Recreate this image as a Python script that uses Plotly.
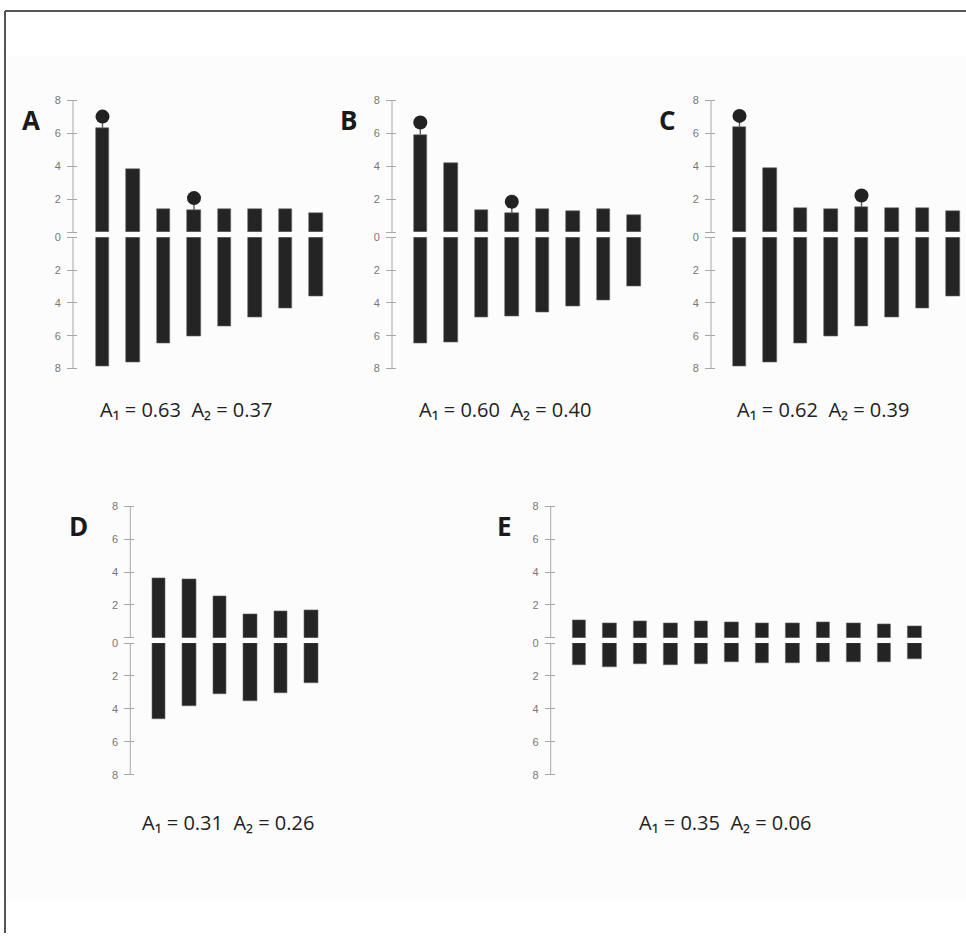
import plotly.graph_objects as go

W, H = 966, 939

# ---------------- data ----------------
panel_names = ["A", "B", "C", "D", "E"]

a_upper = [6.28, 3.80, 1.38, 1.34, 1.42, 1.38, 1.38, 1.16]
a_lower = [7.84, 7.64, 6.46, 6.06, 5.40, 4.88, 4.32, 3.60]
a_circle_idx = [0, 3]
a_circle_val = [7.00, 2.06]

b_upper = [5.90, 4.20, 1.34, 1.14, 1.38, 1.30, 1.38, 1.00]
b_lower = [6.48, 6.42, 4.88, 4.80, 4.54, 4.22, 3.84, 2.98]
b_circle_idx = [0, 3]
b_circle_val = [6.64, 1.84]

c_upper = [6.38, 3.88, 1.46, 1.42, 1.52, 1.46, 1.46, 1.30]
c_lower = [7.84, 7.64, 6.46, 6.06, 5.40, 4.86, 4.32, 3.60]
c_circle_idx = [0, 4]
c_circle_val = [7.04, 2.22]

d_upper = [3.60, 3.58, 2.50, 1.42, 1.64, 1.70]
d_lower = [4.62, 3.82, 3.12, 3.50, 3.02, 2.40]
d_circle_idx = []
d_circle_val = []

e_upper = [1.04, 0.90, 1.00, 0.90, 0.98, 0.94, 0.86, 0.86, 0.92, 0.88, 0.80, 0.70]
e_lower = [1.36, 1.44, 1.30, 1.32, 1.26, 1.18, 1.24, 1.22, 1.16, 1.14, 1.14, 0.98]
e_circle_idx = []
e_circle_val = []

a1_values = ["0.63", "0.60", "0.62", "0.31", "0.35"]
a2_values = ["0.37", "0.40", "0.39", "0.26", "0.06"]

upper_tick_values = [2, 4, 6, 8]
upper_tick_labels = ["2", "4", "6", "8"]
lower_tick_values = [0, 2, 4, 6, 8]
lower_tick_labels = ["0", "2", "4", "6", "8"]

# ---------------- layout geometry (pixels) ----------------
panels = [
    dict(up=a_upper, lo=a_lower, ci=a_circle_idx, cv=a_circle_val, axis=73.0, first=102.5, top=95.3, mid0=229.0, mid1=234.3, bot=367.3,
         letter=(30.5, 115.5), text=(185.7, 409)),
    dict(up=b_upper, lo=b_lower, ci=b_circle_idx, cv=b_circle_val, axis=392.0, first=420.3, top=95.3, mid0=229.0, mid1=234.3, bot=367.3,
         letter=(348.0, 115.5), text=(504.5, 409)),
    dict(up=c_upper, lo=c_lower, ci=c_circle_idx, cv=c_circle_val, axis=711.0, first=739.5, top=95.3, mid0=229.0, mid1=234.3, bot=367.3,
         letter=(667.5, 115.5), text=(823.0, 409)),
    dict(up=d_upper, lo=d_lower, ci=d_circle_idx, cv=d_circle_val, axis=130.3, first=159.0, top=506.7, mid0=640.0, mid1=645.3, bot=778.7,
         letter=(78.3, 526.7), text=(228.0, 827)),
    dict(up=e_upper, lo=e_lower, ci=e_circle_idx, cv=e_circle_val, axis=550.7, first=579.0, top=506.7, mid0=640.0, mid1=645.3, bot=778.7,
         letter=(504.0, 527.0), text=(725.0, 827)),
]

SP = 30.5        # px between bar centres
BARW = 13.5      # bar width px
BAR_COLOR = "#242424"
AXIS_COLOR = "#a8a8a8"
TICKFONT = dict(family="Liberation Sans, Arial, sans-serif", size=11, color="#777777")

def px2x(px):
    return px / W

def px2y(py):
    return 1 - py / H

fig = go.Figure()
layout = dict(
    width=W, height=H,
    margin=dict(l=0, r=0, t=0, b=0),
    paper_bgcolor="white", plot_bgcolor="rgba(0,0,0,0)",
    showlegend=False, hovermode=False, bargap=0,
)
shapes = [
    dict(type="rect", xref="paper", yref="paper", x0=px2x(6), x1=1, y0=px2y(905), y1=px2y(50),
         fillcolor="#fcfcfc", line=dict(width=0), layer="below"),
    dict(type="line", xref="paper", yref="paper", x0=px2x(5), x1=1, y0=px2y(5), y1=px2y(5),
         line=dict(color="#555555", width=2)),
    dict(type="line", xref="paper", yref="paper", x0=px2x(5), x1=px2x(5), y0=px2y(5), y1=0,
         line=dict(color="#555555", width=2)),
]
annotations = []

k = 0
for pi, p in enumerate(panels):
    n = len(p["up"])
    x0px = p["axis"] + 5
    last = p["first"] + (n - 1) * SP
    x1px = min(W, last + 16)
    xr = [(x0px - p["first"]) / SP, (x1px - p["first"]) / SP]
    xdom = [px2x(x0px), px2x(x1px)]
    cats = list(range(n))
    for part in ("up", "lo"):
        k += 1
        suffix = "" if k == 1 else str(k)
        xa, ya = "x" + suffix, "y" + suffix
        yax = dict(anchor=xa, tickmode="array", ticks="outside", ticklen=10,
                   tickwidth=1, tickcolor=AXIS_COLOR, showline=False, showgrid=False,
                   zeroline=False, tickfont=TICKFONT, ticklabelstandoff=4, fixedrange=True)
        if part == "up":
            yax.update(domain=[px2y(p["mid0"]), px2y(p["top"])], range=[0, 8],
                       tickvals=upper_tick_values, ticktext=upper_tick_labels,
                       minor=dict(tickmode="array", tickvals=[0], ticks="outside", ticklen=10,
                                  tickwidth=1, tickcolor=AXIS_COLOR, showgrid=False))
        else:
            yax.update(domain=[px2y(p["bot"]), px2y(p["mid1"])], range=[8, 0],
                       tickvals=lower_tick_values, ticktext=lower_tick_labels)
        layout["xaxis" + suffix] = dict(domain=xdom, range=xr, visible=False, anchor=ya, fixedrange=True)
        layout["yaxis" + suffix] = yax
        fig.add_trace(go.Bar(x=cats, y=p[part], width=BARW / SP, xaxis=xa, yaxis=ya,
                             marker=dict(color=BAR_COLOR, line=dict(width=0.6, color="#666666"))))
        shapes.append(dict(type="line", xref="paper", yref=f"{ya} domain",
                           x0=px2x(p["axis"]), x1=px2x(p["axis"]), y0=0, y1=1,
                           line=dict(color=AXIS_COLOR, width=1)))
        if part == "up" and p["ci"]:
            for idx, cv in zip(p["ci"], p["cv"]):
                fig.add_trace(go.Scatter(x=[idx, idx], y=[p["up"][idx], cv], mode="lines",
                                         line=dict(color="#666666", width=1.5), xaxis=xa, yaxis=ya,
                                         cliponaxis=False))
            fig.add_trace(go.Scatter(x=p["ci"], y=p["cv"], mode="markers",
                                     marker=dict(size=14, color="#222222"), xaxis=xa, yaxis=ya,
                                     cliponaxis=False))
    annotations.append(dict(xref="paper", yref="paper", x=px2x(p["letter"][0]), y=px2y(p["letter"][1]),
                            text=f"<b>{panel_names[pi]}</b>", showarrow=False, xanchor="center", yanchor="middle",
                            font=dict(family="Open Sans, Lato, sans-serif", size=26, color="#1a1a1a")))
    annotations.append(dict(xref="paper", yref="paper", x=px2x(p["text"][0]), y=px2y(p["text"][1]),
                            text=f"A\u2081 = {a1_values[pi]}  A\u2082 = {a2_values[pi]}",
                            showarrow=False, xanchor="center", yanchor="middle",
                            font=dict(family="Open Sans, Lato, sans-serif", size=20, color="#222222")))

layout["shapes"] = shapes
layout["annotations"] = annotations
fig.update_layout(**layout)

fig.write_html("out.html", config={"displayModeBar": False},
               post_script="document.body.style.margin='0';document.body.style.overflow='hidden';")
